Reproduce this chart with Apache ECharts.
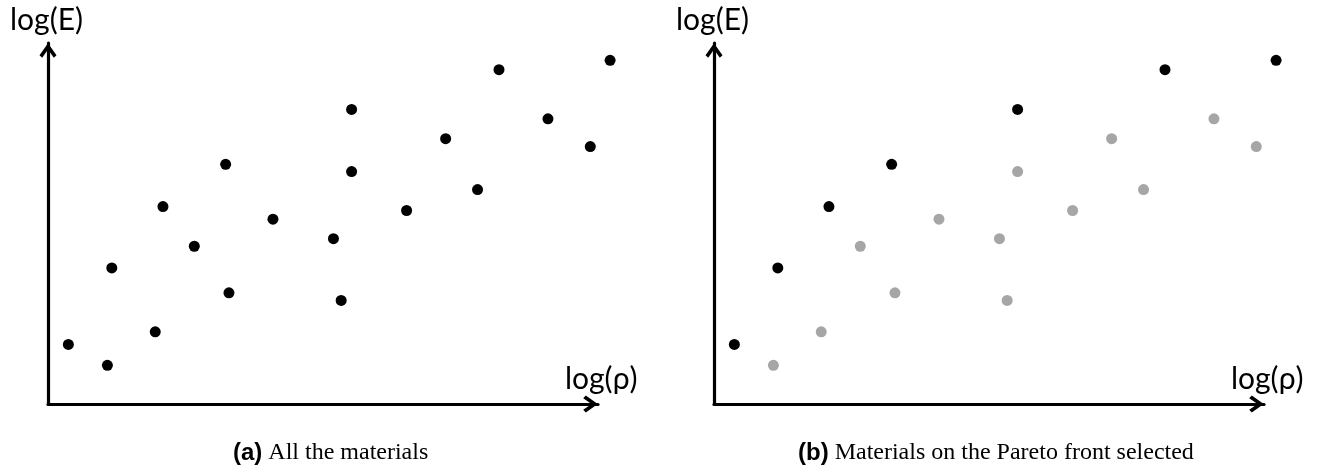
<!DOCTYPE html>
<html>
<head>
<meta charset="utf-8">
<script src="https://cdn.jsdelivr.net/npm/echarts@6/dist/echarts.min.js"></script>
<style>
  html, body { margin: 0; padding: 0; background: #ffffff; }
  #chart { width: 1322px; height: 471px; }
</style>
</head>
<body>
<div id="chart"></div>
<script>
// Material properties (arbitrary log-scale units, 0–100 on each axis)
const logRho = [3.7, 10.8, 11.6, 19.5, 20.9, 26.6, 32.3, 32.9, 40.9, 51.9,
                53.3, 55.2, 55.2, 65.2, 72.3, 78.1, 82.0, 90.9, 98.6, 102.2];
const logE   = [16.5, 10.7, 37.7, 20.0, 54.7, 43.7, 66.4, 30.8, 51.2, 45.8,
                28.7, 81.6, 64.4, 53.6, 73.5, 59.4, 92.6, 79.0, 71.3, 95.2];
// 1 = on the Pareto front (selected), 0 = not selected
const onPareto = [1, 0, 1, 0, 1, 0, 1, 0, 0, 0,
                  0, 1, 0, 0, 0, 0, 1, 0, 0, 1];

const xAxisName = 'log(ρ)';
const yAxisName = 'log(E)';
const captionTags = ['(a)', '(b)'];
const captionTexts = ['All the materials', 'Materials on the Pareto front selected'];

const allPts = logRho.map((x, i) => [x, logE[i]]);
const paretoPts = allPts.filter((p, i) => onPareto[i] === 1);
const otherPts = allPts.filter((p, i) => onPareto[i] === 0);

const arrowPath = 'path://M8.5,0 L17,12 L14.3,14.6 L8.5,6.2 L2.7,14.6 L0,12 Z';

function axisLine() {
  return {
    show: true,
    symbol: ['none', arrowPath],
    symbolSize: [17, 15],
    symbolOffset: [0, -7.5],
    lineStyle: { color: '#000', width: 3.2 }
  };
}
const nameFont = { fontFamily: 'Lato', fontSize: 30, color: '#000' };

function makeX(gi) {
  return {
    gridIndex: gi, type: 'value', min: 0, max: 100,
    name: xAxisName, nameLocation: 'end', nameGap: -33,
    nameTextStyle: Object.assign({ verticalAlign: 'bottom', padding: [0, 0, 10, 0] }, nameFont),
    axisLine: axisLine(), axisTick: { show: false }, axisLabel: { show: false },
    splitLine: { show: false }
  };
}
function makeY(gi) {
  return {
    gridIndex: gi, type: 'value', min: 0, max: 100,
    name: yAxisName, nameLocation: 'end', nameGap: 8,
    nameTextStyle: Object.assign({ align: 'center', padding: [0, 3, 0, 0] }, nameFont),
    axisLine: axisLine(), axisTick: { show: false }, axisLabel: { show: false },
    splitLine: { show: false }
  };
}

const capRich = {
  b: { fontFamily: 'Liberation Sans', fontWeight: 'bold', fontSize: 24, color: '#000' },
  r: { fontFamily: 'Liberation Serif', fontWeight: 'normal', fontSize: 24, color: '#000' }
};

const chart = echarts.init(document.getElementById('chart'), null, { renderer: 'canvas' });
chart.setOption({
  backgroundColor: '#ffffff',
  animation: false,
  title: [
    { text: '{b|' + captionTags[0] + '}{r| ' + captionTexts[0] + '}', left: 233, top: 441, padding: 0,
      textStyle: { rich: capRich, fontSize: 24, fontWeight: 'normal', fontFamily: 'Liberation Serif' } },
    { text: '{b|' + captionTags[1] + '}{r| ' + captionTexts[1] + '}', left: 798, top: 441, padding: 0,
      textStyle: { rich: capRich, fontSize: 24, fontWeight: 'normal', fontFamily: 'Liberation Serif' } }
  ],
  grid: [
    { left: 48, right: 724, top: 43, bottom: 67 },
    { left: 714, right: 58, top: 43, bottom: 67 }
  ],
  xAxis: [makeX(0), makeX(1)],
  yAxis: [makeY(0), makeY(1)],
  series: [
    { type: 'scatter', xAxisIndex: 0, yAxisIndex: 0, data: allPts, symbolSize: 11, clip: false,
      itemStyle: { color: '#000', opacity: 1 } },
    { type: 'scatter', xAxisIndex: 1, yAxisIndex: 1, data: otherPts, symbolSize: 11, clip: false,
      itemStyle: { color: '#a6a6a6', opacity: 1 } },
    { type: 'scatter', xAxisIndex: 1, yAxisIndex: 1, data: paretoPts, symbolSize: 11, clip: false,
      itemStyle: { color: '#000', opacity: 1 } }
  ]
});
</script>
</body>
</html>
